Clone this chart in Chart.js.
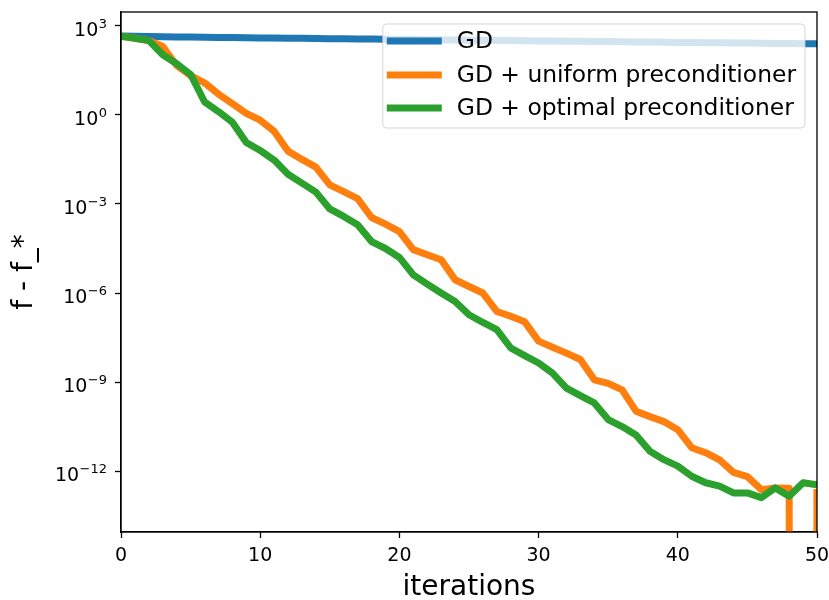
<!DOCTYPE html>
<html lang="en">
<head>
<meta charset="UTF-8" />
<title>GD vs preconditioned GD</title>
<script src="https://cdn.jsdelivr.net/npm/chart.js@4.4.0/dist/chart.umd.min.js"></script>
<style>
  html, body { margin: 0; padding: 0; background: #fff; }
  #wrap { width: 829px; height: 600px; }
</style>
</head>
<body>
<div id="wrap"><canvas id="myChart" width="829" height="600"></canvas></div>
<script>
// iterations 0..50
const iterations = Array.from({ length: 51 }, (_, i) => i);

// f - f_*
const gdPlain = [447, 440, 433, 426, 420, 414, 408, 403, 398, 394, 389, 385, 380, 376, 372, 367, 363,
  359, 355, 351, 347, 343, 339, 335, 331, 327, 324, 320, 316, 313, 309, 306, 302, 299, 295, 292, 288,
  285, 282, 279, 275, 272, 269, 266, 263, 260, 257, 254, 251, 248, 246];

const gdUniform = [447, 380, 316, 200, 45.7, 20.9, 12.0, 5.0, 2.4, 1.12, 0.66, 0.28, 6.0e-2, 3.16e-2,
  1.74e-2, 4.4e-3, 2.6e-3, 1.5e-3, 3.5e-4, 2.1e-4, 1.17e-4, 2.9e-5, 1.95e-5, 1.32e-5, 2.8e-6, 1.66e-6,
  1.0e-6, 2.4e-7, 1.66e-7, 1.07e-7, 2.4e-8, 1.5e-8, 9.5e-9, 5.8e-9, 1.2e-9, 9.1e-10, 5.5e-10, 1.05e-10,
  6.9e-11, 4.7e-11, 2.5e-11, 6.2e-12, 4.2e-12, 2.4e-12, 9.1e-13, 6.6e-13, 2.4e-13, 2.75e-13, 2.7e-13, 0, 2.5e-13];

const gdOptimal = [447, 380, 316, 105, 52.5, 22.9, 2.75, 1.29, 0.56, 0.117, 6.3e-2, 3.0e-2, 1.0e-2,
  5.0e-3, 2.5e-3, 6.8e-4, 3.8e-4, 2.0e-4, 5.4e-5, 3.16e-5, 1.58e-5, 4.1e-6, 2.0e-6, 1.0e-6, 5.2e-7,
  1.86e-7, 1.02e-7, 5.9e-8, 1.41e-8, 7.8e-9, 4.4e-9, 2.0e-9, 6.3e-10, 3.5e-10, 2.0e-10, 5.5e-11, 3.2e-11,
  1.66e-11, 4.7e-12, 2.45e-12, 1.48e-12, 6.8e-13, 4.1e-13, 3.16e-13, 1.86e-13, 1.86e-13, 1.29e-13,
  2.75e-13, 1.45e-13, 4.1e-13, 3.5e-13];

const seriesNames = ['GD', 'GD + uniform preconditioner', 'GD + optimal preconditioner'];
const seriesColors = ['#1f77b4', '#ff7f0e', '#2ca02c'];

const yTickValues = [1e3, 1e0, 1e-3, 1e-6, 1e-9, 1e-12];
const yTickExponents = ['3', '0', '\u22123', '\u22126', '\u22129', '\u221212'];
const xTickStep = 10;

// like matplotlib: zero values on a log axis drop off the bottom
function toPoints(vals) {
  return vals.map((v, i) => ({ x: iterations[i], y: v > 0 ? v : 1e-300 }));
}

function noPad(scale) {
  scale.paddingTop = 0; scale.paddingBottom = 0;
  scale.paddingLeft = 0; scale.paddingRight = 0;
}

const frameAndLegend = {
  id: 'frameAndLegend',
  afterDatasetsDraw(chart) {
    const { ctx, chartArea: a } = chart;
    ctx.save();
    ctx.strokeStyle = '#000';
    ctx.lineWidth = 1.3;
    ctx.strokeRect(a.left, a.top, a.right - a.left, a.bottom - a.top);

    // y tick labels as 10^n, base plus raised exponent
    const ys = chart.scales.y;
    ctx.fillStyle = '#000';
    ctx.textAlign = 'right';
    ctx.textBaseline = 'alphabetic';
    yTickValues.forEach((v, i) => {
      const py = ys.getPixelForValue(v);
      const right = a.left - 14;
      ctx.font = '13px "DejaVu Sans"';
      const ew = ctx.measureText(yTickExponents[i]).width;
      ctx.fillText(yTickExponents[i], right, py + 2);
      ctx.font = '19px "DejaVu Sans"';
      ctx.fillText('10', right - ew - 0.5, py + 10);
    });

    // legend
    ctx.textAlign = 'left';
    ctx.font = '23.4px "DejaVu Sans"';
    const sets = chart.data.datasets;
    const tw = Math.max(...sets.map(d => ctx.measureText(d.label).width));
    const w = 4 + 55 + 15 + tw + 9, h = 104;
    const x = a.right - 12 - w, y = a.top + 12;
    ctx.beginPath();
    ctx.roundRect(x, y, w, h, 4);
    ctx.fillStyle = 'rgba(255,255,255,0.8)';
    ctx.fill();
    ctx.strokeStyle = 'rgba(204,204,204,0.8)';
    ctx.lineWidth = 1;
    ctx.stroke();

    const rows = [17, 51, 84];
    sets.forEach((d, i) => {
      const cy = y + rows[i];
      ctx.strokeStyle = d.borderColor;
      ctx.lineWidth = 7;
      ctx.lineCap = 'butt';
      ctx.beginPath();
      ctx.moveTo(x + 4, cy);
      ctx.lineTo(x + 59, cy);
      ctx.stroke();
      ctx.fillStyle = '#000';
      ctx.textBaseline = 'middle';
      ctx.fillText(d.label, x + 74, cy + 1);
    });
    ctx.restore();
  }
};

Chart.defaults.font.family = '"DejaVu Sans"';
Chart.defaults.color = '#000';

const allSeries = [gdPlain, gdUniform, gdOptimal];
const ctx = document.getElementById('myChart').getContext('2d');
const myChart = new Chart(ctx, {
  type: 'line',
  data: {
    datasets: allSeries.map((vals, i) => ({
      label: seriesNames[i],
      data: toPoints(vals),
      borderColor: seriesColors[i],
      backgroundColor: seriesColors[i],
      borderWidth: 7,
      borderJoinStyle: 'round',
      pointRadius: 0,
      tension: 0,
      fill: false,
      clip: 0,
      order: 2 - i   // green drawn on top, like matplotlib
    }))
  },
  options: {
    responsive: false,
    animation: false,
    events: [],
    layout: { padding: { top: 12, right: 12, left: 0, bottom: 0 } },
    plugins: { legend: { display: false }, tooltip: { enabled: false } },
    scales: {
      x: {
        type: 'linear',
        min: 0,
        max: 50,
        afterFit(scale) { scale.height = 68; noPad(scale); },
        ticks: { stepSize: xTickStep, font: { size: 19 }, padding: 7, maxRotation: 0 },
        grid: { display: true, drawOnChartArea: false, tickLength: 6, tickColor: '#000', tickWidth: 1.3 },
        border: { display: true, color: '#000', width: 1.3 },
        title: { display: true, text: 'iterations', font: { size: 28, lineHeight: 0.85 }, padding: { top: 0, bottom: 0 } }
      },
      y: {
        type: 'logarithmic',
        min: 9.2e-15,
        max: 2.9e3,
        afterFit(scale) { scale.width = 121; noPad(scale); },
        afterBuildTicks(scale) { scale.ticks = yTickValues.map(v => ({ value: v, major: true })); },
        ticks: { display: false },
        grid: { display: true, drawOnChartArea: false, tickLength: 6, tickColor: '#000', tickWidth: 1.3 },
        border: { display: true, color: '#000', width: 1.3 },
        title: { display: true, text: 'f - f_*', font: { size: 28 }, padding: { top: 8, bottom: 0 } }
      }
    }
  },
  plugins: [frameAndLegend]
});
</script>
</body>
</html>
